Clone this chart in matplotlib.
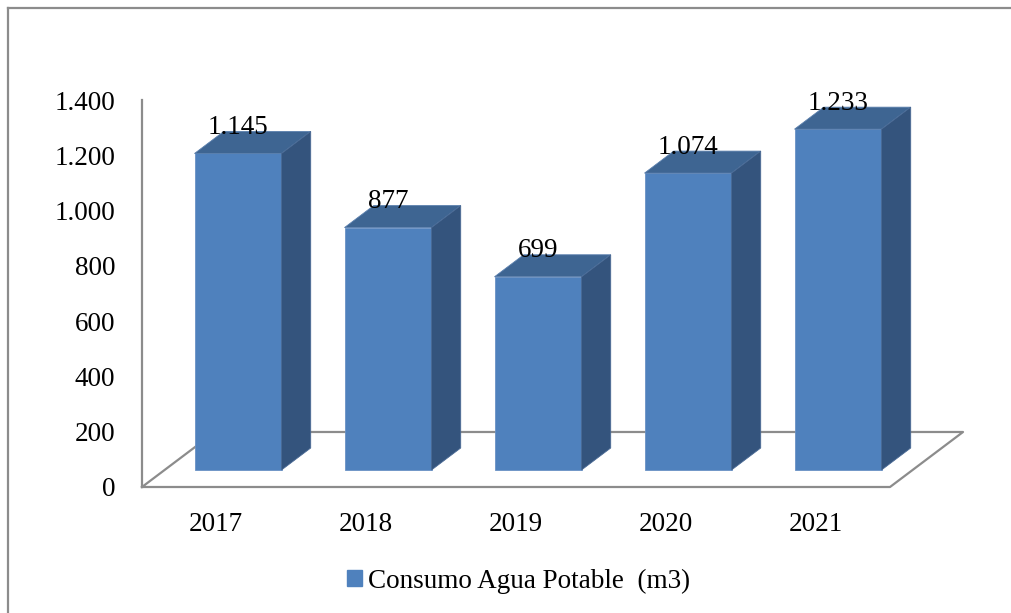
import matplotlib
matplotlib.use("Agg")
import matplotlib.pyplot as plt
from matplotlib.lines import Line2D
from matplotlib.patches import Patch
from matplotlib.ticker import FuncFormatter
import numpy as np

# Data
years = ["2017", "2018", "2019", "2020", "2021"]
consumo = [1145, 877, 699, 1074, 1233]
series_name = "Consumo Agua Potable  (m3)"
y_ticks = [0, 200, 400, 600, 800, 1000, 1200, 1400]

# Style
front_color = "#4F81BD"
top_color = "#3E6592"
side_color = "#34547D"
grid_gray = "#8C8C8C"
plt.rcParams["font.family"] = ["Liberation Serif", "DejaVu Serif"]
fs = 19.5

# fake 3D geometry (category units / value units)
floor_dx, floor_dy = 0.4867, 199.0      # full floor depth
front_dx, front_dy = 0.1504, 61.5       # where bar front faces sit
bar_dx, bar_dy = 0.1947, 79.6           # bar depth
bar_w = 0.58


def dotted(v, pos=None):
    return f"{int(v):,}".replace(",", ".")


fig = plt.figure(figsize=(10.12, 6.13), dpi=100)
ax = fig.add_axes([142 / 1012, 1 - 487 / 613, 821 / 1012, 387 / 613])
ax.set_xlim(-0.64, 4.8333)
ax.set_ylim(0, 1400)

x = np.arange(len(years))
vals = np.array(consumo)

# floor
x0, x1 = ax.get_xlim()[0], 4.3467
ax.plot([x0, x1, x1 + floor_dx, x0 + floor_dx, x0],
        [0, 0, floor_dy, floor_dy, 0],
        color=grid_gray, lw=1.6, zorder=1, clip_on=False)

# bars: front, top, side
ax.bar(x, vals, width=bar_w, bottom=front_dy, color=front_color,
       edgecolor="#6A91C4", linewidth=0.6, zorder=3)
for xi, v in zip(x, vals):
    l, r = xi - bar_w / 2, xi + bar_w / 2
    top = front_dy + v
    ax.fill([l, r, r + bar_dx, l + bar_dx], [top, top, top + bar_dy, top + bar_dy],
            color=top_color, ec="#5A7FAD", lw=0.6, zorder=3)
    ax.fill([r, r + bar_dx, r + bar_dx, r],
            [front_dy, front_dy + bar_dy, top + bar_dy, top],
            color=side_color, ec="#4A6A95", lw=0.6, zorder=3)
    ax.annotate(dotted(v), (xi, top), xytext=(0, 18.7), textcoords="offset points",
                ha="center", va="center", fontsize=fs, color="black", zorder=5)

# axes
for s in ["top", "right", "bottom"]:
    ax.spines[s].set_visible(False)
ax.spines["left"].set_color(grid_gray)
ax.spines["left"].set_linewidth(1.6)
ax.set_yticks(y_ticks)
ax.yaxis.set_major_formatter(FuncFormatter(dotted))
ax.set_xticks(x - front_dx)
ax.set_xticklabels(years)
ax.tick_params(axis="y", length=0, pad=19.4, labelsize=fs)
ax.tick_params(axis="x", length=0, pad=18, labelsize=fs)
ax.patch.set_alpha(0)

# legend
fig.legend(handles=[Patch(color=front_color, label=series_name)],
           loc="center", bbox_to_anchor=(0.5124, 0.0522), frameon=False,
           fontsize=fs, handlelength=0.554, handleheight=0.554, handletextpad=0.25)

# chart border (only top/left visible in the crop)
fig.add_artist(Line2D([8 / 1012, 8 / 1012], [0, 1 - 8 / 613], color=grid_gray, lw=1.6,
                      transform=fig.transFigure))
fig.add_artist(Line2D([8 / 1012, 1], [1 - 8 / 613, 1 - 8 / 613], color=grid_gray, lw=1.6,
                      transform=fig.transFigure))

fig.savefig("out.png", dpi=100)
